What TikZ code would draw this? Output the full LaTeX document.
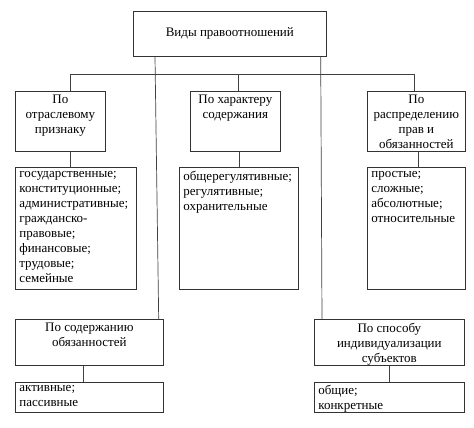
\documentclass[tikz,border=0pt]{standalone}
\usepackage{fontspec}
\setmainfont{Liberation Serif}
\tikzset{
  cell/.style={draw=black!80, line width=0.7pt, inner xsep=4pt, inner ysep=1.5pt, anchor=north west, font=\fontsize{13}{15}\selectfont},
  link/.style={draw=black!75, line width=0.7pt}
}
\begin{document}
\begin{tikzpicture}[x=1pt,y=-1pt]
\useasboundingbox[fill=white] (0,0) rectangle (474,428);
% top
\node[cell, inner sep=0pt, minimum width=193pt, minimum height=45pt] (top) at (133,11) {Виды правоотношений};
% headers
\node[cell] (hdr1) at (15,91) {\parbox[t][57pt][t]{82pt}{\vspace*{2.5pt}\centering По\\ отраслевому\\ признаку}};
\node[cell] (hdr2) at (190,91) {\parbox[t][57pt][t]{82pt}{\vspace*{2.5pt}\centering По характеру\\ содержания}};
\node[cell] (hdr3) at (367,91) {\parbox[t][57pt][t]{90pt}{\vspace*{2.5pt}\centering По\\ распределению\\ прав и\\ обязанностей}};
% lists
\node[cell] (lst1) at (15,167) {\parbox[t][119pt][t]{113pt}{\vspace*{2.5pt}\raggedright государственные;\\ конституционные;\\ административные;\\ гражданско-\\ правовые;\\ финансовые;\\ трудовые;\\ семейные}};
\node[cell] (lst2) at (179,167) {\parbox[t][119pt][t]{111pt}{\vspace*{2.5pt}\raggedright общерегулятивные;\\ регулятивные;\\ охранительные}};
\node[cell] (lst3) at (367,167) {\parbox[t][119pt][t]{90pt}{\vspace*{2.5pt}\raggedright простые;\\ сложные;\\ абсолютные;\\ относительные}};
% lower branches
\node[cell] (sub1) at (15,319) {\parbox[t][43pt][t]{140pt}{\vspace*{2.5pt}\centering По содержанию\\ обязанностей}};
\node[cell] (sub2) at (314,319) {\parbox[t][43pt][t]{142pt}{\vspace*{2.5pt}\centering По способу\\ индивидуализации\\ субъектов}};
\node[cell] (res1) at (15,382) {\parbox[t][27pt][t]{140pt}{\vspace*{1.5pt}\raggedright активные;\\ пассивные}};
\node[cell] (res2) at (314,382) {\parbox[t][27pt][t]{142pt}{\vspace*{1.5pt}\raggedright общие;\\ конкретные}};

\draw[link] ([xshift=22pt]top.south west) -- ([xshift=-5pt]sub1.north east);
\draw[link] ([xshift=-6pt]top.south east) -- ([xshift=8pt]sub2.north west);
\draw[link] ([xshift=10pt]hdr1.north) -- ++(0,-17) -| ([xshift=-2pt]hdr3.north);
\draw[link] ([xshift=3pt]hdr2.north) -- ++(0,-17);
\draw[link] ([xshift=10pt]hdr1.south) -- ([xshift=10pt]hdr1.south |- lst1.north);
\draw[link] (lst2.north) -- (lst2.north |- hdr2.south);
\draw[link] ([xshift=2pt]hdr3.south) -- ([xshift=2pt]hdr3.south |- lst3.north);
\draw[link] ([xshift=-6pt]sub1.south) -- ([xshift=-6pt]sub1.south |- res1.north);
\draw[link] (sub2.south) -- (res2.north);

\end{tikzpicture}
\end{document}
